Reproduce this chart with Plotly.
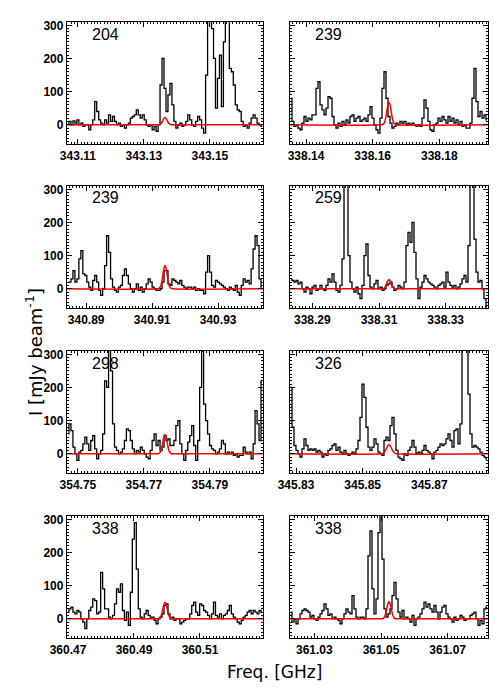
import numpy as np
import plotly.graph_objects as go
from plotly.subplots import make_subplots

# ---- data ------------------------------------------------------------------
chan_width = 0.0006  # GHz
span = 0.0594        # GHz shown per panel

panel_labels = ['204', '239', '239', '259', '298', '326', '338', '338']
panel_start = [343.1067, 338.1352, 340.8842, 338.2833,
               354.7467, 345.8282, 360.4697, 361.0227]
panel_ticks = [
    [343.11, 343.13, 343.15],
    [338.14, 338.16, 338.18],
    [340.89, 340.91, 340.93],
    [338.29, 338.31, 338.33],
    [354.75, 354.77, 354.79],
    [345.83, 345.85, 345.87],
    [360.47, 360.49, 360.51],
    [361.03, 361.05, 361.07],
]

spec_204 = [5, 10, 0, 12, 5, 15, 0, 5, -5, 0, 0, -15, 0, 15, 70, 40, 15, 5, 0, 15,
            5, 30, 10, 25, 10, 0, 5, -5, 0, -10, 0, 5, 20, 25, 30, 45, 30, 20, 30, 15,
            0, -5, 0, -15, -5, -20, 0, 120, 200, 110, 40, 90, 125, 60, 10, -10, 0, 5, -5, 0,
            10, 30, 15, 0, -5, 10, 25, 15, -10, -25, 150, 330, 340, 290, 200, 50, 140, 210, 55, 250,
            360, 330, 170, 160, 120, 60, 45, 40, 10, -5, 0, -10, 5, 20, 30, 20, 5, 0, -5]
spec_239a = [80, 10, -5, 0, -10, -15, 5, 25, 10, 20, 15, 30, 30, 110, 130, 60, 45, 30, 50, 85,
             80, 25, 0, -10, 5, -5, 10, 0, 15, 5, 25, 30, 10, 20, 25, 10, 15, 20, 10, 30,
             55, 20, 0, -15, -25, 20, 110, 160, 80, 25, 5, -10, -5, 5, 0, 10, 5, 10, 0, 5,
             0, 5, 0, -5, 0, -5, 20, 75, 50, 10, -15, -20, 0, 5, 20, 10, 25, 15, 5, 25,
             10, 20, 5, 15, 0, 10, -5, 0, -10, -10, 5, 80, 170, 70, 25, 40, 20, 30, 15]
spec_239b = [20, 20, 30, 55, 20, 30, 90, 115, 45, 40, 20, 5, -5, 25, 40, 20, -5, -20, 0, 70,
             160, 110, 30, 5, -5, -10, 5, 10, 40, 60, 40, 15, 0, -10, 0, 15, -5, 5, -10, 0,
             15, 30, 20, 5, 0, -5, -5, 0, 20, 55, 55, 15, 10, 30, 25, 20, 15, 25, 10, 5,
             0, 5, 5, 0, 5, -5, 0, -5, -5, -15, 50, 100, 50, 10, 5, 25, 20, 15, 10, 5,
             0, -5, 5, 0, -5, 10, -10, -20, 10, 30, 20, 25, 15, 60, 120, 160, 130, 30, 5]
spec_259 = [30, 25, 20, 25, 15, 20, 0, -10, 5, 0, -15, 5, 10, -5, 0, 10, 0, -5, 10, 30,
            20, 45, 20, -5, -10, 10, 90, 330, 320, 100, 20, 0, -10, 5, -15, -30, 10, 100, 135, 40,
            5, 0, 15, 25, 0, 5, -5, 0, 10, 15, 20, 5, -5, 0, 10, 5, 0, 20, 130, 170,
            140, 200, 110, 30, -30, 5, 20, 40, 30, 20, 15, 10, 5, 0, 10, 15, 20, 5, 50, 20,
            10, 5, 10, 0, 5, 15, 30, 40, 20, 130, 330, 340, 150, 50, 20, 25, 0, -30, -55]
spec_298 = [60, 90, 70, 20, 0, -20, 5, 10, 30, 50, 30, 10, 40, 55, 15, -15, 0, 10, 60, 220,
            200, 330, 250, 90, 20, 10, 0, 5, 15, 40, 75, 70, 40, 15, 0, 10, 5, 20, 10, 0,
            -10, -15, 10, 40, 60, 25, 40, 10, 20, 55, 40, 45, 25, 25, 40, 85, 100, 30, 0, -20,
            10, 35, 55, 85, 25, -20, 40, 200, 310, 150, 100, 60, 25, 15, 10, 0, 5, 15, 40, 30,
            0, 5, 0, 5, -5, 0, -10, -5, -5, 20, 5, 0, 5, -15, 30, 130, 90, 40, 220]
spec_326 = [200, 80, 25, 10, 0, -10, 15, 45, 25, 10, 15, 10, 15, 5, 10, 5, -10, 0, -5, 10,
            15, 25, 30, 10, 20, 5, 0, 10, 0, -5, 0, 5, 0, 15, 40, 110, 210, 170, 80, 20,
            10, 20, 45, 30, 5, 0, -5, 40, 50, 40, 85, 110, 60, 10, -10, -15, -20, 0, -5, 10,
            20, 40, 20, 0, 5, 0, 10, 25, 10, 5, 0, -15, 5, 10, 20, 30, 25, 30, 45, 60,
            40, 20, 70, 75, 30, 90, 340, 350, 330, 180, 60, 20, 25, 20, 15, 5, -5, -10, -15]
spec_338a = [20, 30, 35, 20, 15, 25, 20, 0, -10, -30, 0, 25, 35, 60, 55, 15, 20, 140, 90, 30,
             30, 5, 0, 10, 45, 90, 80, 105, 25, -5, 20, -20, 80, 240, 290, 150, 30, 5, 0, 15,
             25, 10, 5, 5, -5, -15, 0, 5, 15, 40, 45, 15, 0, 5, -5, 0, 0, -15, -10, -5,
             0, 0, 15, 40, 50, 20, 10, 45, 40, 25, 20, 10, 0, 15, 50, 10, 5, 15, 0, 10,
             15, 25, 40, 15, 5, 0, -10, -15, -5, 5, 10, 20, 25, 15, 25, 20, 15, 25, 20]
spec_338b = [20, -10, 0, -15, 0, 15, 25, 30, 25, 20, 5, 10, 0, -5, 5, 15, 25, 45, 30, 10,
             15, 0, 5, 0, -5, -15, 0, 15, 30, 20, 15, 70, 30, 5, 0, 5, 5, 0, 30, 190,
             265, 90, 15, 60, 260, 320, 180, 30, 5, 15, 30, 70, 110, 60, 20, 5, 25, 0, 5, 0,
             -10, 10, -20, 0, 5, 15, 30, 50, 35, 45, 30, 20, 40, 20, 0, 20, 35, 40, 15, 5,
             0, -10, 5, -5, 0, 10, 5, -5, 0, 0, 10, 15, 20, 0, -20, -5, -15, 30, 35]
spectra = [spec_204, spec_239a, spec_239b, spec_259,
           spec_298, spec_326, spec_338a, spec_338b]

# red model line, sampled every 0.0004 GHz around the panel centre
model_step = 0.0004
model_204 = [0, 0, 1, 4, 10, 18, 22, 18, 10, 4, 1, 0, 0]
model_239a = [0, 1, 3, 12, 31, 56, 68, 56, 31, 12, 3, 1, 0]
model_239b = [0, 1, 3, 12, 32, 58, 70, 58, 32, 12, 3, 1, 0]
model_259 = [0, 0, 1, 5, 13, 23, 28, 23, 13, 5, 1, 0, 0]
model_298 = [0, 0, 3, 10, 27, 48, 58, 48, 27, 10, 3, 0, 0]
model_326 = [0, 1, 3, 8, 15, 24, 28, 24, 15, 8, 3, 1, 0]
model_338a = [0, 0, 2, 9, 23, 41, 50, 41, 23, 9, 2, 0, 0]
model_338b = [0, 0, 2, 9, 24, 43, 52, 43, 24, 9, 2, 0, 0]
models = [model_204, model_239a, model_239b, model_259,
          model_298, model_326, model_338a, model_338b]

y_range = [-58, 310]
y_ticks = [0, 100, 200, 300]

# ---- figure ----------------------------------------------------------------
W, H = 500, 700
OFF = 7  # page body margin pushes the plot right/down
col_px = [(66 - OFF, 262 - OFF), (289 - OFF, 487 - OFF)]
row_px = [(21 - OFF, 143 - OFF), (185 - OFF, 307 - OFF),
          (350 - OFF, 472 - OFF), (515 - OFF, 637 - OFF)]

fig = make_subplots(rows=4, cols=2)

font = 'Liberation Sans, Arial, sans-serif'
title_font = 'DejaVu Sans, Verdana, sans-serif'

for k in range(8):
    r, c = k // 2 + 1, k % 2 + 1
    f0 = panel_start[k]
    freq = f0 + (np.arange(len(spectra[k])) + 0.5) * chan_width
    fig.add_trace(go.Scatter(x=freq, y=spectra[k], mode='lines', line_shape='hvh',
                             line=dict(color='black', width=1.3), showlegend=False),
                  row=r, col=c)

    centre = f0 + span / 2
    m = models[k]
    half = (len(m) - 1) // 2
    mx = [f0] + [centre + (j - half) * model_step for j in range(len(m))] + [f0 + span]
    my = [0] + m + [0]
    fig.add_trace(go.Scatter(x=mx, y=my, mode='lines', line_shape='spline',
                             line=dict(color='#ff0000', width=1.5), showlegend=False),
                  row=r, col=c)

    x0, x1 = col_px[c - 1]
    t0, t1 = row_px[r - 1]
    axis_common = dict(showline=True, linecolor='black', linewidth=1.3, mirror='allticks',
                       ticks='inside', ticklen=5, tickcolor='black', showgrid=False,
                       zeroline=False, automargin=False,
                       tickfont=dict(family=font, size=12, color='black', weight='bold'))
    fig.update_xaxes(domain=[x0 / W, x1 / W], range=[f0, f0 + span],
                     tickvals=panel_ticks[k],
                     ticktext=['%.2f' % v for v in panel_ticks[k]],
                     minor=dict(ticks='inside', ticklen=2, dtick=0.001, tick0=0,
                                tickcolor='black'),
                     **axis_common, row=r, col=c)
    fig.update_yaxes(domain=[1 - t1 / H, 1 - t0 / H], range=y_range,
                     tickvals=y_ticks, showticklabels=(c == 1),
                     minor=dict(ticks='inside', ticklen=2, dtick=10, tick0=0,
                                tickcolor='black'),
                     **axis_common, row=r, col=c)

    fig.add_annotation(x=(x0 + 23) / W, y=1 - (t0 + 12) / H, xref='paper', yref='paper',
                       text=panel_labels[k], showarrow=False, xanchor='left',
                       yanchor='middle', font=dict(family=font, size=16, color='black'))

fig.add_annotation(x=(19 - OFF) / W, y=1 - (351 - OFF) / H, xref='paper', yref='paper',
                   text='I [mJy beam<sup>-1</sup>]', showarrow=False, textangle=-90,
                   font=dict(family=title_font, size=18, color='black'))
fig.add_annotation(x=(273 - OFF) / W, y=1 - (683 - OFF) / H, xref='paper', yref='paper',
                   text='Freq. [GHz]', showarrow=False,
                   font=dict(family=title_font, size=17, color='black'))

fig.update_layout(width=W, height=H, margin=dict(l=0, r=0, t=0, b=0),
                  paper_bgcolor='white', plot_bgcolor='white', showlegend=False)

fig.write_html("out.html")
